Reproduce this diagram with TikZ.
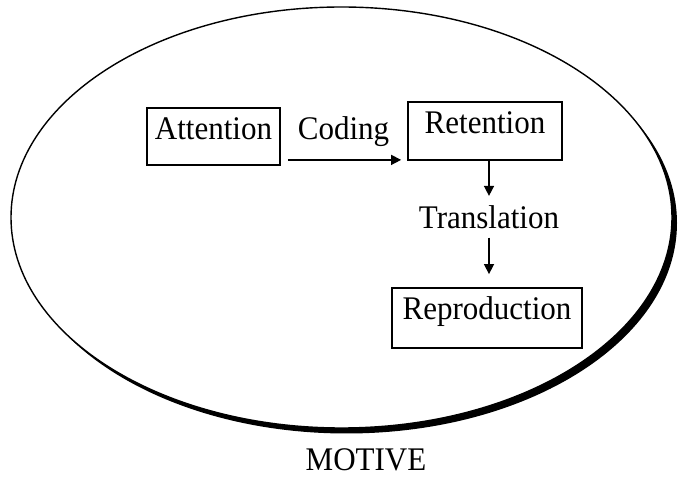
\documentclass[tikz,border=0pt]{standalone}
\usepackage{fontspec}
\setmainfont{Liberation Serif}[FakeStretch=0.94]
\usetikzlibrary{arrows.meta,calc}
\begin{document}
\begin{tikzpicture}[x=1pt,y=-1pt,
  lbl/.style={inner sep=0pt,font=\fontsize{33}{38}\selectfont},
  stagebox/.style={lbl,draw,line width=1.8pt,anchor=base},
  arr/.style={line width=1.5pt,-{Triangle[length=10pt,width=10pt]}}]
  \useasboundingbox (0,0) rectangle (678,478);
  % shadowed ellipse: black copy offset to the lower right, white ellipse on top
  \fill[black] (346.5,223) ellipse [x radius=330.5pt, y radius=210.5pt];
  \filldraw[fill=white,draw=black,line width=1.4pt] (341.5,217.5) ellipse [x radius=330.5pt, y radius=210.5pt];
  % stages
  \node[stagebox,minimum width=133pt,text height=32pt,text depth=25pt] (att) at (213.5,140) {Attention};
  \node[stagebox,minimum width=154pt,text height=32pt,text depth=26pt] (ret) at (485,134) {Retention};
  \node[stagebox,minimum width=190pt,text height=32pt,text depth=28pt] (rep) at (487,320) {Reproduction};
  % processes between the stages
  \node[lbl,anchor=base] (cod) at (343.5,140) {Coding};
  \node[lbl,anchor=base] (trans) at (489,229) {Translation};
  \node[lbl,anchor=base] (mot) at (366,471) {MOTIVE};
  % connectors
  \draw[arr] ($(att.south east)+(7,-6)$) -- ($(ret.south west)+(-6,-1)$);
  \draw[arr,shorten >=10pt] (trans.north |- ret.south) -- (trans.north);
  \draw[arr,shorten <=8pt,shorten >=13pt] (trans.south) -- (trans.south |- rep.north);
\end{tikzpicture}
\end{document}
